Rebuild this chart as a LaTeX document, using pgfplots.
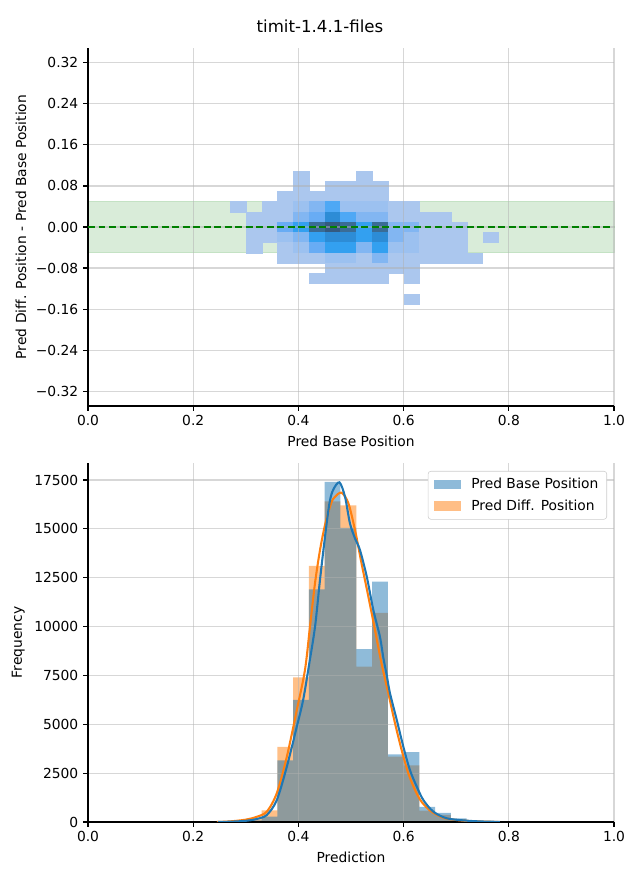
\documentclass[border=0pt]{standalone}
\usepackage{fontspec}
\setmainfont{DejaVu Sans}
\usepackage{pgfplots}
\pgfplotsset{compat=1.18}
\definecolor{mplblue}{RGB}{31,119,180}
\definecolor{mplorange}{RGB}{255,127,14}
\definecolor{gridc}{RGB}{176,176,176}
\definecolor{bandgreen}{RGB}{0,128,0}
\definecolor{hmA}{RGB}{171,199,238}
\definecolor{hmB}{RGB}{156,193,240}
\definecolor{hmC}{RGB}{130,182,242}
\definecolor{hmD}{RGB}{104,172,244}
\definecolor{hmE}{RGB}{78,168,245}
\definecolor{hmF}{RGB}{51,160,240}
\definecolor{hmG}{RGB}{45,140,214}
\definecolor{hmH}{RGB}{58,108,150}
\definecolor{hmI}{RGB}{52,90,128}
\pgfplotsset{
  common/.style={
    scale only axis, width=380.14pt,
    set layers,
    axis x line*=bottom, axis y line*=left,
    x axis line style={-}, y axis line style={-},
    xtick pos=left, ytick pos=left,
    tick align=outside,
    grid=major,
    major grid style={gridc, opacity=0.5, line width=0.8pt},
    xmin=0, xmax=1,
    xtick={0,0.2,0.4,0.6,0.8,1},
    xticklabels={0.0,0.2,0.4,0.6,0.8,1.0},
    scaled x ticks=false, scaled y ticks=false,
    tick style={black, line width=0.8pt},
    major tick length=3.5pt,
    axis line style={line width=0.8pt},
    ticklabel style={font=\fontsize{10}{12}\selectfont},
    label style={font=\fontsize{10}{12}\selectfont},
    /pgf/number format/assume math mode=true,
  },
  cell/.style={on layer=axis background, draw=#1, line width=0.1pt, fill=#1, forget plot},
}
\begin{document}
\begin{tikzpicture}
\path (0,0) rectangle (462.53pt,635.98pt);
\node[font=\fontsize{12}{14}\selectfont] at (231.26pt,617.19pt) {timit-1.4.1-files};

% ---------- top: 2D histogram ----------
\begin{axis}[common,
  at={(63.60pt,342.56pt)}, anchor=south west,
  height=258.73pt,
  ymin=-0.349, ymax=0.349,
  ytick={-0.32,-0.24,-0.16,-0.08,0,0.08,0.16,0.24,0.32},
  yticklabels={−0.32,−0.24,−0.16,−0.08,0.00,0.08,0.16,0.24,0.32},
  xlabel={Pred Base Position},
  ylabel={Pred Diff. Position - Pred Base Position},
]
\addplot[on layer=axis background, draw=bandgreen, draw opacity=0.15, fill=bandgreen, fill opacity=0.15, forget plot]
  coordinates {(0,-0.05) (1,-0.05) (1,0.05) (0,0.05) (0,-0.05)};
% row 0.10
\addplot[cell=hmA] coordinates {(0.39,0.09) (0.42,0.09) (0.42,0.11) (0.39,0.11)};
\addplot[cell=hmA] coordinates {(0.51,0.09) (0.54,0.09) (0.54,0.11) (0.51,0.11)};
% row 0.08
\addplot[cell=hmA] coordinates {(0.39,0.07) (0.42,0.07) (0.42,0.09) (0.39,0.09)};
\addplot[cell=hmA] coordinates {(0.45,0.07) (0.57,0.07) (0.57,0.09) (0.45,0.09)};
% row 0.06
\addplot[cell=hmA] coordinates {(0.36,0.05) (0.57,0.05) (0.57,0.07) (0.36,0.07)};
% row 0.04
\addplot[cell=hmA] coordinates {(0.27,0.03) (0.30,0.03) (0.30,0.05) (0.27,0.05)};
\addplot[cell=hmA] coordinates {(0.33,0.03) (0.39,0.03) (0.39,0.05) (0.33,0.05)};
\addplot[cell=hmB] coordinates {(0.39,0.03) (0.42,0.03) (0.42,0.05) (0.39,0.05)};
\addplot[cell=hmC] coordinates {(0.42,0.03) (0.45,0.03) (0.45,0.05) (0.42,0.05)};
\addplot[cell=hmE] coordinates {(0.45,0.03) (0.48,0.03) (0.48,0.05) (0.45,0.05)};
\addplot[cell=hmB] coordinates {(0.48,0.03) (0.57,0.03) (0.57,0.05) (0.48,0.05)};
\addplot[cell=hmA] coordinates {(0.57,0.03) (0.63,0.03) (0.63,0.05) (0.57,0.05)};
% row 0.02
\addplot[cell=hmA] coordinates {(0.30,0.01) (0.39,0.01) (0.39,0.03) (0.30,0.03)};
\addplot[cell=hmC] coordinates {(0.39,0.01) (0.42,0.01) (0.42,0.03) (0.39,0.03)};
\addplot[cell=hmD] coordinates {(0.42,0.01) (0.45,0.01) (0.45,0.03) (0.42,0.03)};
\addplot[cell=hmG] coordinates {(0.45,0.01) (0.48,0.01) (0.48,0.03) (0.45,0.03)};
\addplot[cell=hmE] coordinates {(0.48,0.01) (0.51,0.01) (0.51,0.03) (0.48,0.03)};
\addplot[cell=hmC] coordinates {(0.51,0.01) (0.57,0.01) (0.57,0.03) (0.51,0.03)};
\addplot[cell=hmA] coordinates {(0.57,0.01) (0.69,0.01) (0.69,0.03) (0.57,0.03)};
% row 0
\addplot[cell=hmA] coordinates {(0.30,-0.01) (0.36,-0.01) (0.36,0.01) (0.30,0.01)};
\addplot[cell=hmD] coordinates {(0.36,-0.01) (0.39,-0.01) (0.39,0.01) (0.36,0.01)};
\addplot[cell=hmF] coordinates {(0.39,-0.01) (0.42,-0.01) (0.42,0.01) (0.39,0.01)};
\addplot[cell=hmH] coordinates {(0.42,-0.01) (0.45,-0.01) (0.45,0.01) (0.42,0.01)};
\addplot[cell=hmI] coordinates {(0.45,-0.01) (0.48,-0.01) (0.48,0.01) (0.45,0.01)};
\addplot[cell=hmH] coordinates {(0.48,-0.01) (0.51,-0.01) (0.51,0.01) (0.48,0.01)};
\addplot[cell=hmF] coordinates {(0.51,-0.01) (0.54,-0.01) (0.54,0.01) (0.51,0.01)};
\addplot[cell=hmH] coordinates {(0.54,-0.01) (0.57,-0.01) (0.57,0.01) (0.54,0.01)};
\addplot[cell=hmC] coordinates {(0.57,-0.01) (0.63,-0.01) (0.63,0.01) (0.57,0.01)};
\addplot[cell=hmA] coordinates {(0.63,-0.01) (0.72,-0.01) (0.72,0.01) (0.63,0.01)};
% row -0.02
\addplot[cell=hmA] coordinates {(0.30,-0.03) (0.36,-0.03) (0.36,-0.01) (0.30,-0.01)};
\addplot[cell=hmB] coordinates {(0.36,-0.03) (0.39,-0.03) (0.39,-0.01) (0.36,-0.01)};
\addplot[cell=hmC] coordinates {(0.39,-0.03) (0.42,-0.03) (0.42,-0.01) (0.39,-0.01)};
\addplot[cell=hmF] coordinates {(0.42,-0.03) (0.45,-0.03) (0.45,-0.01) (0.42,-0.01)};
\addplot[cell=hmG] coordinates {(0.45,-0.03) (0.51,-0.03) (0.51,-0.01) (0.45,-0.01)};
\addplot[cell=hmF] coordinates {(0.51,-0.03) (0.54,-0.03) (0.54,-0.01) (0.51,-0.01)};
\addplot[cell=hmG] coordinates {(0.54,-0.03) (0.57,-0.03) (0.57,-0.01) (0.54,-0.01)};
\addplot[cell=hmC] coordinates {(0.57,-0.03) (0.60,-0.03) (0.60,-0.01) (0.57,-0.01)};
\addplot[cell=hmB] coordinates {(0.60,-0.03) (0.63,-0.03) (0.63,-0.01) (0.60,-0.01)};
\addplot[cell=hmA] coordinates {(0.63,-0.03) (0.72,-0.03) (0.72,-0.01) (0.63,-0.01)};
\addplot[cell=hmA] coordinates {(0.75,-0.03) (0.78,-0.03) (0.78,-0.01) (0.75,-0.01)};
% row -0.04
\addplot[cell=hmA] coordinates {(0.30,-0.05) (0.33,-0.05) (0.33,-0.03) (0.30,-0.03)};
\addplot[cell=hmA] coordinates {(0.36,-0.05) (0.39,-0.05) (0.39,-0.03) (0.36,-0.03)};
\addplot[cell=hmB] coordinates {(0.39,-0.05) (0.42,-0.05) (0.42,-0.03) (0.39,-0.03)};
\addplot[cell=hmD] coordinates {(0.42,-0.05) (0.45,-0.05) (0.45,-0.03) (0.42,-0.03)};
\addplot[cell=hmF] coordinates {(0.45,-0.05) (0.51,-0.05) (0.51,-0.03) (0.45,-0.03)};
\addplot[cell=hmC] coordinates {(0.51,-0.05) (0.54,-0.05) (0.54,-0.03) (0.51,-0.03)};
\addplot[cell=hmF] coordinates {(0.54,-0.05) (0.57,-0.05) (0.57,-0.03) (0.54,-0.03)};
\addplot[cell=hmB] coordinates {(0.57,-0.05) (0.63,-0.05) (0.63,-0.03) (0.57,-0.03)};
\addplot[cell=hmA] coordinates {(0.63,-0.05) (0.72,-0.05) (0.72,-0.03) (0.63,-0.03)};
% row -0.06
\addplot[cell=hmA] coordinates {(0.36,-0.07) (0.45,-0.07) (0.45,-0.05) (0.36,-0.05)};
\addplot[cell=hmB] coordinates {(0.45,-0.07) (0.51,-0.07) (0.51,-0.05) (0.45,-0.05)};
\addplot[cell=hmA] coordinates {(0.51,-0.07) (0.54,-0.07) (0.54,-0.05) (0.51,-0.05)};
\addplot[cell=hmC] coordinates {(0.54,-0.07) (0.57,-0.07) (0.57,-0.05) (0.54,-0.05)};
\addplot[cell=hmA] coordinates {(0.57,-0.07) (0.75,-0.07) (0.75,-0.05) (0.57,-0.05)};
% row -0.08
\addplot[cell=hmA] coordinates {(0.45,-0.09) (0.63,-0.09) (0.63,-0.07) (0.45,-0.07)};
% row -0.10
\addplot[cell=hmA] coordinates {(0.42,-0.11) (0.57,-0.11) (0.57,-0.09) (0.42,-0.09)};
\addplot[cell=hmA] coordinates {(0.60,-0.11) (0.63,-0.11) (0.63,-0.09) (0.60,-0.09)};
% row -0.14
\addplot[cell=hmA] coordinates {(0.60,-0.15) (0.63,-0.15) (0.63,-0.13) (0.60,-0.13)};
\addplot[bandgreen, line width=1.5pt, dash pattern=on 5pt off 2.6pt, forget plot]
  coordinates {(0,0) (1,0)};
\end{axis}

% ---------- bottom: 1D histograms ----------
\begin{axis}[common,
  at={(63.60pt,41.92pt)}, anchor=south west,
  height=259.45pt,
  ymin=0, ymax=18370,
  ytick={0,2500,5000,7500,10000,12500,15000,17500},
  yticklabels={0,2500,5000,7500,10000,12500,15000,17500},
  xlabel={Prediction},
  ylabel={Frequency},
  legend style={at={(0.9867,0.9777)}, anchor=north east, draw={rgb,255:red,204;green,204;blue,204},
    rounded corners=2pt, fill=white, font=\fontsize{10}{12}\selectfont,
    row sep=2.5pt, inner xsep=4pt, inner ysep=3pt},
  legend cell align=left,
  legend image code/.code={\fill[#1, draw=none, sharp corners] (0pt,-3.3pt) rectangle (20pt,3.3pt); \path (25pt,0pt);},
]
\addlegendimage{fill=mplblue, fill opacity=0.5}
\addlegendentry{Pred Base Position}
\addlegendimage{fill=mplorange, fill opacity=0.5}
\addlegendentry{Pred Diff. Position}

\addplot[on layer=axis background, const plot mark left, draw=none, fill=mplorange, fill opacity=0.5, forget plot]
coordinates {(0.24,20) (0.27,60) (0.30,150) (0.33,600) (0.36,3850) (0.39,7400) (0.42,13100) (0.45,16400) (0.48,16200) (0.51,7950) (0.54,10700) (0.57,3340) (0.60,2900) (0.63,580) (0.66,370) (0.69,130) (0.72,40) (0.75,15) (0.78,0)} \closedcycle;
\addplot[on layer=axis background, const plot mark left, draw=none, fill=mplblue, fill opacity=0.5, forget plot]
coordinates {(0.24,10) (0.27,30) (0.30,80) (0.33,270) (0.36,3150) (0.39,6250) (0.42,11900) (0.45,17400) (0.48,15050) (0.51,8850) (0.54,12300) (0.57,3460) (0.60,3580) (0.63,780) (0.66,470) (0.69,180) (0.72,60) (0.75,20) (0.78,0)} \closedcycle;

\addplot[mplorange, line width=1.5pt, smooth, tension=0.5, forget plot]
coordinates {(0.245,0) (0.27,30) (0.30,120) (0.32,260) (0.340,530) (0.359,1480) (0.378,3340) (0.397,5730) (0.4125,7780) (0.422,9990) (0.4316,12230) (0.441,13900) (0.4506,15200) (0.462,16300) (0.4696,16640) (0.482,16850) (0.495,16310) (0.5076,14940) (0.520,13240) (0.533,11530) (0.5456,9820) (0.558,8120) (0.571,6580) (0.5837,5050) (0.5963,3680) (0.609,2490) (0.6217,1640) (0.634,1040) (0.653,530) (0.679,190) (0.7135,68) (0.75,20) (0.78,5)};
\addplot[mplblue, line width=1.5pt, smooth, tension=0.5, forget plot]
coordinates {(0.247,0) (0.27,15) (0.30,60) (0.32,150) (0.340,360) (0.359,1125) (0.378,2830) (0.397,4880) (0.409,6240) (0.420,8000) (0.4316,9990) (0.441,12380) (0.4506,14600) (0.459,16310) (0.466,16990) (0.478,17380) (0.4886,16640) (0.498,15280) (0.5076,14510) (0.517,13920) (0.530,12550) (0.5424,10850) (0.555,9480) (0.5615,8400) (0.568,7500) (0.574,6600) (0.587,5220) (0.5995,3850) (0.612,2660) (0.625,1810) (0.6375,1125) (0.6565,530) (0.682,190) (0.720,68) (0.75,25) (0.783,5)};
\end{axis}
\end{tikzpicture}
\end{document}
